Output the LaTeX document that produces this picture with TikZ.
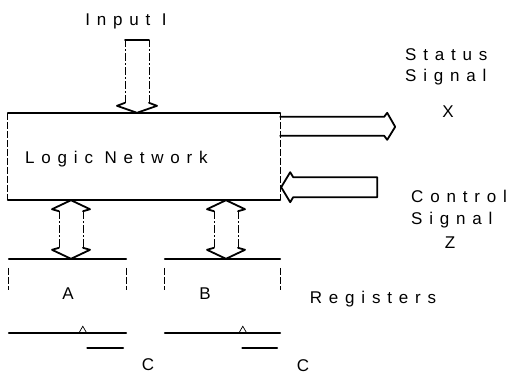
\documentclass[tikz,border=0pt]{standalone}
\usepackage{fontspec}
\newfontfamily\labelfont{Liberation Sans}[LetterSpace=40]
\usepackage{tikz}
\usetikzlibrary{positioning,calc}
\tikzset{
  hline/.style={line width=1.8pt, line join=round, line cap=round},
  vline/.style={line width=0.7pt, dash pattern=on 7pt off 2pt},
  shaft/.style={line width=0.8pt, dash pattern=on 8pt off 2pt on 2pt off 2pt},
  clk/.style={line width=0.7pt},
  frame/.style={draw=none, inner sep=0pt},
  lbl/.style={font=\labelfont\fontsize{17}{21.5}\selectfont, inner sep=0pt}
}

\begin{document}
\begin{tikzpicture}[x=1pt, y=-1pt]
  \useasboundingbox (0,0) rectangle (508,376);
  % boxes
  \node[frame, minimum width=272pt, minimum height=87pt] (net) at (144,156.5) {};
  \node[frame, minimum width=117pt, minimum height=74pt] (regA) at (67.5,296) {};
  \node[frame, minimum width=115pt, minimum height=74pt] (regB) at (222.5,296) {};
  % labels
  \node[lbl, anchor=base west] (netlbl) at (25,163) {Logic Network};
  \node[lbl, anchor=base] (input) at (126,25) {Input I};
  \node[lbl, anchor=north west, align=left] (status) at (405,48) {Status\\Signal};
  \node[lbl] (xsig) at (448,112) {X};
  \node[lbl, anchor=north west, align=left] (control) at (411,190) {Control\\Signal};
  \node[lbl] (zsig) at (450,243) {Z};
  \node[lbl, anchor=base] (regs) at (373,303) {Registers};
  \node[lbl] (labA) at (68,294) {A};
  \node[lbl] (labB) at (205,294) {B};
  \node[lbl] (clkA) at (148,365) {C};
  \node[lbl] (clkB) at (303,366) {C};

  % logic network outline
  \draw[hline] (net.north west) -- (net.north east);
  \draw[hline] (net.south west) -- (net.south east);
  \draw[vline] (net.north west) -- (net.south west);
  \draw[vline] (net.north east) -- (net.south east);

  % registers
  \foreach \r/\dx/\cx in {regA/74/-39, regB/78/-38} {
    \draw[hline] (\r.north west) -- (\r.north east);
    \draw[hline] (\r.south west) -- (\r.south east);
    \draw[vline] ([yshift=-9pt]\r.north west) -- ([yshift=-31pt]\r.north west);
    \draw[vline] ([yshift=-9pt]\r.north east) -- ([yshift=-31pt]\r.north east);
    \draw[clk] ([xshift=\dx pt-4pt]\r.south west) -- ++(4,-7) -- ++(4,7);
    \draw[hline] ([xshift=\cx pt, yshift=-15pt]\r.south east) -- ([xshift=-3pt, yshift=-15pt]\r.south east);
  }

  % input arrow
  \coordinate (inTip) at (137,0 |- net.north);
  \draw[hline] ($(inTip)+(-12,-10)$) -- ++(-8,3) -- (inTip) -- ++(20,-7) -- ++(-8,-3);
  \draw[shaft] ($(inTip)+(-12,-10)$) -- ($(inTip)+(-12,-73)$);
  \draw[shaft] ($(inTip)+(12,-10)$) -- ($(inTip)+(12,-73)$);
  \draw[hline] ($(inTip)+(-12,-73)$) -- ($(inTip)+(12,-73)$);

  % status signal X
  \draw[hline] ([yshift=-4pt]net.north east) -- ++(104,0) -- ++(3,-4) -- ++(8,14)
    -- ++(-8,13) -- ++(-3,-4) -- ++(-104,0);

  % control signal Z
  \coordinate (zTip) at ([xshift=1pt, yshift=13pt]net.south east);
  \draw[hline] (zTip) -- ++(9,-15) -- ++(3,5) -- ++(84,0) -- ++(0,20) -- ++(-84,0)
    -- ++(-3,5) -- cycle;

  % buses to the registers
  \coordinate (busA) at (71,0);
  \coordinate (busB) at (226,0);
  \foreach \b/\r in {busA/regA, busB/regB} {
    \coordinate (t) at (\b |- net.south);
    \coordinate (u) at (\b |- \r.north);
    \draw[hline] ($(t)+(-12,11)$) -- ++(-7,-2) -- (t) -- ++(19,9) -- ++(-7,2);
    \draw[hline] ($(u)+(-12,-11)$) -- ++(-7,2) -- (u) -- ++(19,-9) -- ++(-7,-2);
    \draw[shaft] ($(t)+(-12,11)$) -- ($(u)+(-12,-11)$);
    \draw[shaft] ($(t)+(12,11)$) -- ($(u)+(12,-11)$);
  }
\end{tikzpicture}
\end{document}
